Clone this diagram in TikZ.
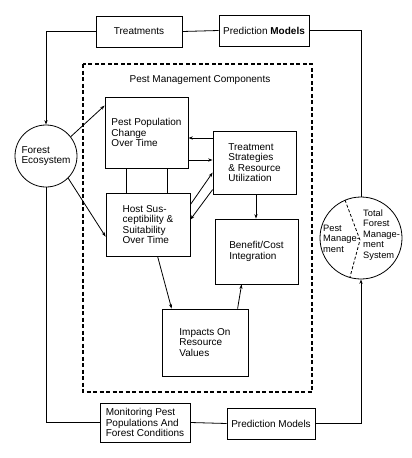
\documentclass[tikz,border=0pt]{standalone}
\usepackage{fontspec}
\setmainfont{Liberation Sans}
\usetikzlibrary{calc,arrows.meta}
\begin{document}
\begin{tikzpicture}[x=1pt,y=-1pt,
  txt/.style={font=\fontsize{10}{10.5}\selectfont},
  boxn/.style={draw,line width=0.8pt,rectangle,inner sep=0pt,align=left,txt},
  circn/.style={draw,line width=0.8pt,circle,inner sep=0pt,align=left,txt},
  conn/.style={line width=0.8pt},
  arr/.style={line width=0.8pt,-{Stealth[length=4.5pt,width=3.2pt]}},
  frame/.style={line width=1.1pt,dash pattern=on 4pt off 2.5pt}]
\useasboundingbox (0,0) rectangle (412,458);
% outer loop
\node[boxn,minimum width=86,minimum height=31] (treat1) at (139,31.5) {Treatments};
\node[boxn,minimum width=90,minimum height=31] (predtop) at (264,30.5) {Prediction \textbf{Models}};
\node[circn,minimum size=62] (forest) at (46,156) {Forest\\Ecosystem};
\node[draw,line width=0.8pt,circle,inner sep=0pt,minimum size=82] (tfms) at (361,238) {};
\node[boxn,minimum width=90,minimum height=39] (monitor) at (145,422.5) {Monitoring Pest\\Populations And\\Forest Conditions};
\node[boxn,minimum width=88,minimum height=31] (predbot) at (271,423.5) {Prediction Models};
% right circle contents
\node[txt,font=\fontsize{9.3}{10.5}\selectfont,align=left,anchor=west,inner sep=0pt] (tpm) at (323,238.5) {Pest\\Manage-\\ment};
\node[txt,font=\fontsize{9.3}{10.5}\selectfont,align=left,anchor=west,inner sep=0pt] (ttf) at (363,235) {Total\\Forest\\Manage-\\ment\\System};
\draw[conn,dash pattern=on 3pt off 2pt] ($(tfms.center)+(-16,-38)$) -- ($(tfms.center)+(-1,2)$) -- ($(tfms.center)+(-11,39)$);
% dashed frame
\draw[frame] (83,64) rectangle (312,392);
\node[txt,inner sep=0pt] (title) at (200,80) {Pest Management Components};
% inner boxes
\node[boxn,minimum width=83,minimum height=71] (pest) at (146.5,132.5) {Pest Population\\Change\\Over Time};
\node[boxn,minimum width=84,minimum height=63] (host) at (148,224.5) {Host Sus-\\ceptibility \&\\Suitability\\Over Time};
\node[boxn,minimum width=83,minimum height=63] (treat2) at (254.5,162.5) {Treatment\\Strategies\\\& Resource\\Utilization};
\node[boxn,minimum width=83,minimum height=65] (benefit) at (256.5,251.5) {Benefit/Cost\\Integration};
\node[boxn,minimum width=86,minimum height=67] (impacts) at (205,342.5) {Impacts On\\Resource\\Values};
% outer connectors
\draw[arr] (treat1.west) -| (forest.north);
\draw[conn] (treat1.east) -- (predtop.west);
\draw[conn] (predtop.east) -| (tfms.north);
\draw[conn] (forest.south) |- (monitor.west);
\draw[conn] (monitor.east) -- (predbot.west);
\draw[arr] (predbot.east) -| (tfms.south);
% inner connectors
\draw[arr] (forest.38) -- ($(pest.north west)+(0,9)$);
\draw[arr] (forest.-45) -- ($(host.north west)+(0,44)$);
\coordinate (v1) at ($(pest.south west)+(22,0)$);
\coordinate (v2) at ($(pest.south west)+(63,0)$);
\draw[conn] (v1) -- (v1 |- host.north);
\draw[conn] (v2) -- (v2 |- host.north);
\coordinate (h1) at ($(treat2.west)+(0,-24.5)$);
\coordinate (h2) at ($(treat2.west)+(0,-2.5)$);
\draw[arr] (h1) -- (h1 -| pest.east);
\draw[arr] (h2 -| pest.east) -- (h2);
\draw[arr] ($(host.north east)+(0,12)$) -- ($(treat2.north west)+(0,42)$);
\draw[arr] ($(treat2.north west)+(0,59)$) -- ($(host.north east)+(0,27)$);
\coordinate (d1) at ($(treat2.south)+(1.5,0)$);
\draw[arr] (d1) -- (d1 |- benefit.north);
\draw[arr] ($(host.south west)+(52,0)$) -- ($(impacts.north west)+(10,0)$);
\draw[arr] ($(impacts.north west)+(76,0)$) -- ($(benefit.south west)+(27,0)$);
\end{tikzpicture}
\end{document}
